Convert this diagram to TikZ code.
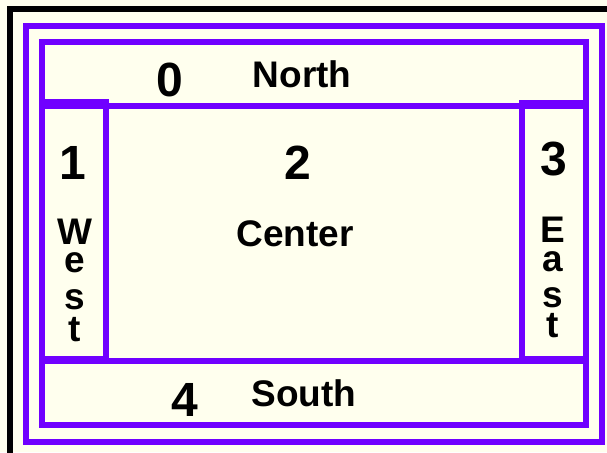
\documentclass[tikz,border=0pt]{standalone}
\usepackage{fontspec}
\setmainfont{Liberation Sans}
\definecolor{panelbg}{RGB}{255,255,238}
\definecolor{edge}{RGB}{112,0,255}
\tikzset{
  frame/.style={draw=black, line width=6pt},
  border/.style={draw=edge, line width=6pt},
  digit/.style={anchor=base, inner sep=0pt, font=\bfseries\fontsize{48}{48}\selectfont},
  word/.style={anchor=base, inner sep=0pt, font=\bfseries\fontsize{37}{37}\selectfont},
  column/.style={anchor=north, inner sep=0pt, align=center, font=\bfseries\fontsize{37}{37}\selectfont},
}
\begin{document}
\begin{tikzpicture}[x=1pt, y=-1pt]
  \useasboundingbox (0,0) rectangle (607,452);
  \clip (0,0) rectangle (607,452);
  \fill[panelbg] (0,0) rectangle (607,452);
  % window frame, running off the page at right and bottom
  \draw[frame] (10,9.5) rectangle (640,480);
  % outer and inner container borders
  \draw[border] (26,26) rectangle (602,442);
  \draw[border] (42,42) rectangle (586,425);
  % regions of the border layout
  \draw[border] (42,42) rectangle (586,105.5);   % north
  \draw[border] (42,102) rectangle (106,359);    % west
  \draw[border] (522,103) rectangle (586,359);   % east
  \draw[border] (42,361) rectangle (586,425);    % south
  % north
  \node[digit] (n0) at (169.5,96) {0};
  \node[word]  (north) at (302,87) {North};
  % west: one letter per line
  \node[digit] (n1) at (73,179) {1};
  \node[column] (west) at (75,218.5) {W\\[-9pt]e\\s\\[-5pt]t};
  % center
  \node[digit] (n2) at (297.5,179) {2};
  \node[word]  (center) at (295,246) {Center};
  % east: one letter per line
  \node[digit] (n3) at (554,175) {3};
  \node[column] (east) at (553,216.5) {E\\[-8pt]a\\[-1pt]s\\[-7pt]t};
  % south
  \node[digit] (n4) at (184.5,416) {4};
  \node[word]  (south) at (304,406) {South};
\end{tikzpicture}
\end{document}
